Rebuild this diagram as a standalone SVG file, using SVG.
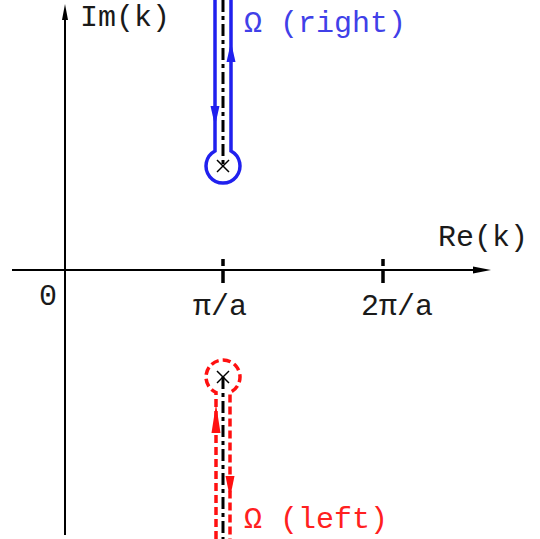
<svg xmlns="http://www.w3.org/2000/svg" width="540" height="539" viewBox="0 0 540 539">
<style>
text{font-family:"Liberation Mono","DejaVu Sans Mono",monospace;font-size:30px;fill:#1a1a1a}
.axis{stroke:#000;stroke-width:2;fill:none}
.center{stroke:#000;stroke-width:3;fill:none;stroke-dasharray:12 4 4 4}
.blue{stroke:#2020ee;stroke-width:3.5;fill:none}
.red{stroke:#ff1010;stroke-width:3.5;fill:none;stroke-dasharray:8 4}
.x{stroke:#000;stroke-width:1.5}
</style>
<rect width="540" height="539" fill="#fff"/>
<g id="axes">
<line class="axis" x1="65" y1="535" x2="65" y2="18"/>
<polygon points="65,4 62,20 68,20" fill="#000"/>
<line class="axis" x1="12" y1="270" x2="476" y2="270"/>
<polygon points="491,270 473,266.5 473,273.5" fill="#000"/>
<line x1="223" y1="259" x2="223" y2="283" stroke="#000" stroke-width="3.5" stroke-dasharray="7 4 13"/>
<line x1="383" y1="259" x2="383" y2="283" stroke="#000" stroke-width="3.5" stroke-dasharray="7 4 13"/>
<text x="80" y="26">Im(k)</text>
<text x="438" y="246">Re(k)</text>
<text x="39" y="305">0</text>
<text x="193" y="315">π/a</text>
<text x="361" y="315">2π/a</text>
</g>
<g id="connectors">
<line class="center" x1="223" y1="0" x2="223" y2="166"/>
<line class="center" x1="223" y1="377" x2="223" y2="539"/>
<path class="blue" d="M215,0 V151 A17,17 0 1,0 231,151 V0"/>
<polygon points="215,126 210.5,106 219.5,106" fill="#2020ee"/>
<polygon points="231,42 226.5,62 235.5,62" fill="#2020ee"/>
<path class="red" d="M216,539 V392.5 A17,17 0 1,1 230,392.5 V539"/>
<polygon points="216,404 211.5,433 220.5,433" fill="#ff1010"/>
<polygon points="230,498 225.5,476 234.5,476" fill="#ff1010"/>
</g>
<g id="pole-upper">
<line class="x" x1="217" y1="160" x2="229" y2="172"/>
<line class="x" x1="229" y1="160" x2="217" y2="172"/>
<text x="244" y="32" style="fill:#4040e8">Ω (right)</text>
</g>
<g id="pole-lower">
<line class="x" x1="217" y1="371" x2="229" y2="383"/>
<line class="x" x1="229" y1="371" x2="217" y2="383"/>
<text x="244" y="528" style="fill:#ff2020">Ω (left)</text>
</g>
</svg>
